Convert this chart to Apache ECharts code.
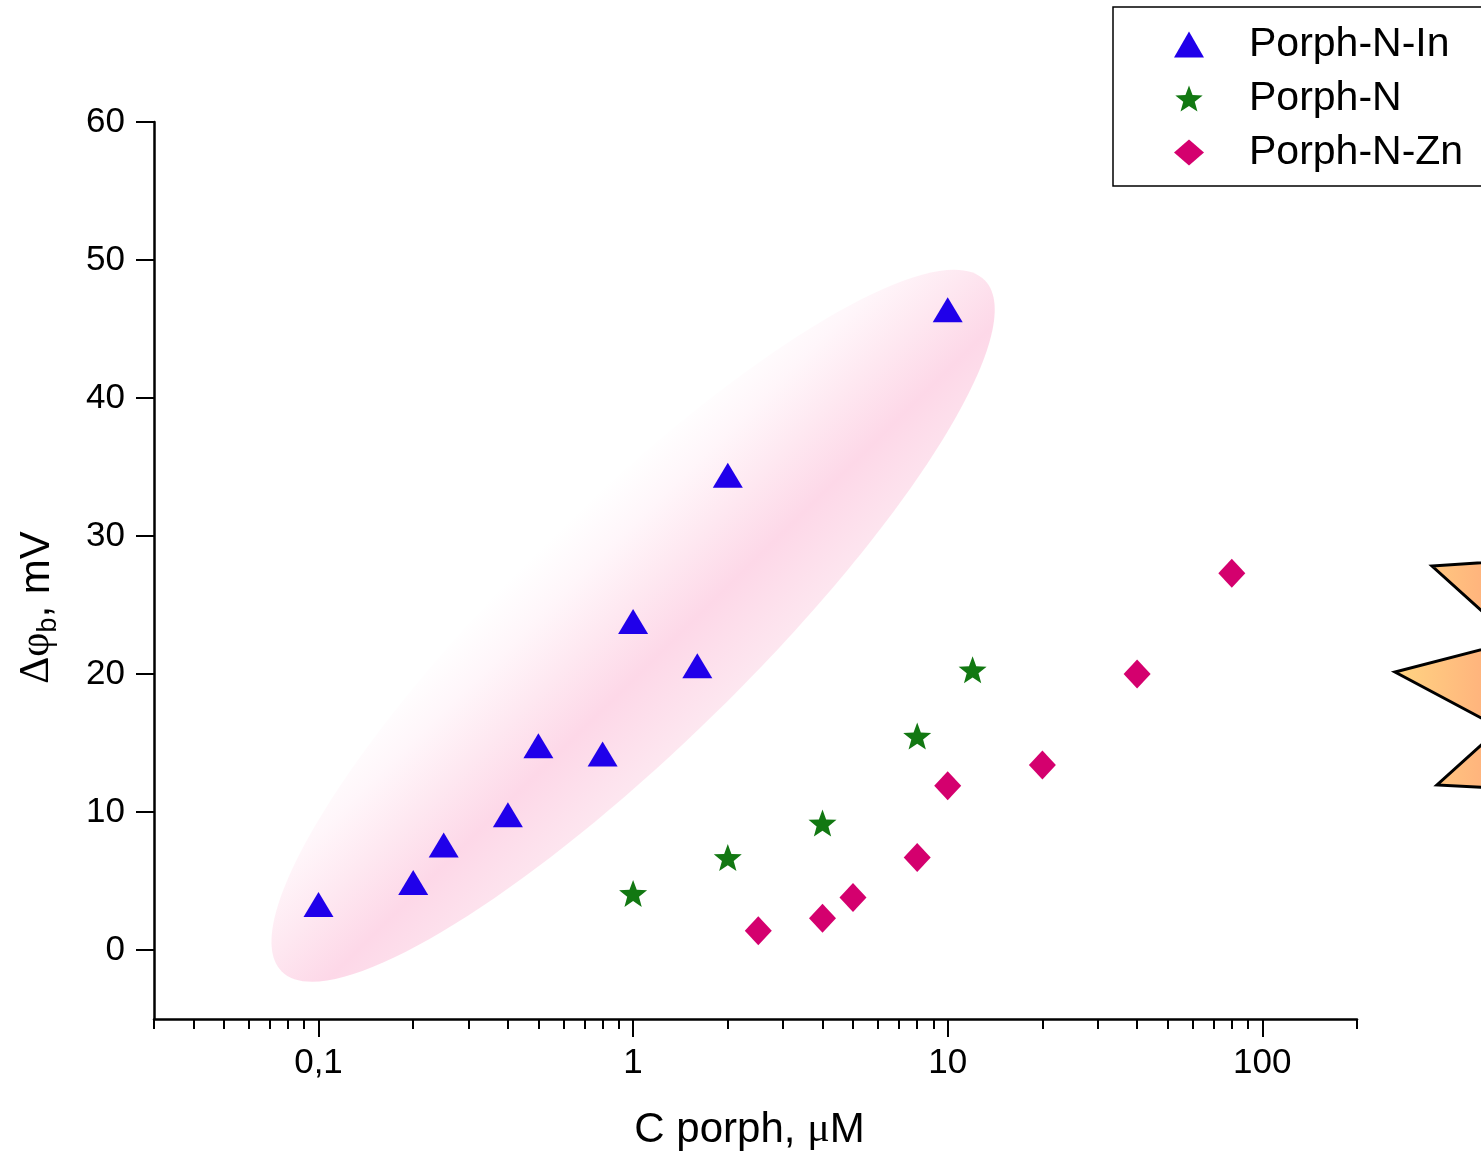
<!DOCTYPE html>
<html>
<head>
<meta charset="utf-8">
<script src="https://cdn.jsdelivr.net/npm/echarts@6/dist/echarts.min.js"></script>
<style>html,body{margin:0;padding:0;background:#fff}#c{width:1481px;height:1153px}</style>
</head>
<body>
<div id="c"></div>
<script>
// ---- data ----
const inX = [0.1, 0.2, 0.25, 0.4, 0.5, 0.8, 1, 1.6, 2, 10];
const inY = [3.3, 4.9, 7.6, 9.8, 14.8, 14.2, 23.8, 20.6, 34.4, 46.4];
const nX = [1, 2, 4, 8, 12];
const nY = [4.1, 6.7, 9.2, 15.5, 20.3];
const znX = [2.5, 4, 5, 8, 10, 20, 40, 80];
const znY = [1.4, 2.3, 3.8, 6.7, 11.9, 13.4, 20.0, 27.3];
const yTicks = [0, 10, 20, 30, 40, 50, 60];
const xMajor = [0.1, 1, 10, 100];
const xMinor = [0.03,0.04,0.05,0.06,0.07,0.08,0.09,0.2,0.3,0.4,0.5,0.6,0.7,0.8,0.9,2,3,4,5,6,7,8,9,20,30,40,50,60,70,80,90,200];
const seriesNames = ['Porph-N-In', 'Porph-N', 'Porph-N-Zn'];

function zip(a, b) { return a.map((v, i) => [v, b[i]]); }
function starPath() {
  const p = [];
  for (let i = 0; i < 10; i++) {
    const r = i % 2 ? 0.42 : 1;
    const a = -Math.PI / 2 + i * Math.PI / 5;
    p.push((50 + 50 * r * Math.cos(a)).toFixed(2) + ' ' + (50 + 50 * r * Math.sin(a)).toFixed(2));
  }
  return 'path://M' + p.join(' L') + ' Z';
}
const STAR = starPath();
const FONT = 'Liberation Sans, Arial, sans-serif';

const chart = echarts.init(document.getElementById('c'));
const option = {
  animation: false,
  backgroundColor: '#fff',
  grid: { left: 154, right: 124, top: 122, bottom: 134, containLabel: false, outerBoundsMode: 'none' },
  legend: {
    orient: 'vertical', left: 1113, top: 7,
    padding: [17, 40, 13, 61],
    itemWidth: 30, itemHeight: 26, itemGap: 13,
    borderColor: '#000', borderWidth: 1.5, backgroundColor: '#fff',
    textStyle: { fontSize: 41, fontFamily: FONT, color: '#000', padding: [0, 0, 0, 40] },
    data: seriesNames
  },
  xAxis: [{
    type: 'log', min: 0.03, max: 200, position: 'bottom',
    axisLine: { onZero: false, lineStyle: { color: '#000', width: 2.5 } },
    axisTick: { customValues: xMajor, length: 18, lineStyle: { color: '#000', width: 2 } },
    axisLabel: {
      customValues: xMajor, margin: 27, fontSize: 35, fontFamily: FONT, color: '#000',
      formatter: v => String(Math.round(v * 1000) / 1000).replace('.', ',')
    },
    splitLine: { show: false }, minorTick: { show: false },
    name: '{n|C porph, }{m|μ}{n|M}', nameLocation: 'middle', nameGap: 88,
    nameTextStyle: { padding: [0, 12, 0, 0], rich: {
      n: { fontSize: 42, fontFamily: FONT, color: '#000', lineHeight: 46 },
      m: { fontSize: 42, fontFamily: 'Liberation Serif, serif', color: '#000', lineHeight: 46 }
    } }
  }, {
    type: 'log', min: 0.03, max: 200, position: 'bottom', gridIndex: 0,
    axisLine: { show: false, onZero: false },
    axisTick: { customValues: xMinor, length: 10, lineStyle: { color: '#000', width: 2 } },
    axisLabel: { show: false },
    splitLine: { show: false }
  }],
  yAxis: {
    type: 'value', min: -5, max: 60,
    axisLine: { show: true, onZero: false, lineStyle: { color: '#000', width: 2.5 } },
    axisTick: { show: true, customValues: yTicks, length: 18, lineStyle: { color: '#000', width: 2 } },
    axisLabel: { customValues: yTicks, margin: 29, fontSize: 35, fontFamily: FONT, color: '#000' },
    splitLine: { show: false },
    name: '{d|Δφ}{s|b}{t|, mV}', nameLocation: 'middle', nameGap: 92,
    nameTextStyle: {
      padding: [0, 74, 0, 0],
      rich: {
        d: { fontSize: 42, fontFamily: 'Liberation Serif, serif', color: '#000', lineHeight: 50 },
        s: { fontSize: 27, fontFamily: FONT, color: '#000', lineHeight: 27, verticalAlign: 'bottom' },
        t: { fontSize: 42, fontFamily: FONT, color: '#000', lineHeight: 50 }
      }
    }
  },
  series: [{
    name: seriesNames[0], type: 'scatter', z: 3, symbol: 'triangle', symbolSize: [30, 25],
    itemStyle: { color: '#2000ea', opacity: 1 }, data: zip(inX, inY)
  }, {
    name: seriesNames[1], type: 'scatter', z: 3, symbol: STAR, symbolSize: [28, 27],
    itemStyle: { color: '#127812', opacity: 1 }, data: zip(nX, nY)
  }, {
    name: seriesNames[2], type: 'scatter', z: 3, symbol: 'diamond', symbolSize: [27, 29],
    itemStyle: { color: '#d4006e', opacity: 1 }, data: zip(znX, znY)
  }]
};
chart.setOption(option);

// decorations: highlight ellipse around the Porph-N-In group, and the orange burst at the right edge
const c = chart.convertToPixel({ xAxisIndex: 0, yAxisIndex: 0 }, [1.0, 23.5]);
chart.setOption({
  graphic: [{
    type: 'ellipse', z: 0, silent: true,
    x: c[0], y: c[1], rotation: 44.5 * Math.PI / 180,
    shape: { cx: 0, cy: 0, rx: 493, ry: 120 },
    style: {
      fill: new echarts.graphic.LinearGradient(0, 0, 0, 1, [
        { offset: 0, color: '#ffffff' },
        { offset: 0.2, color: '#fff6fa' },
        { offset: 0.42, color: '#fee8f1' },
        { offset: 0.66, color: '#fdd8e8' },
        { offset: 1, color: '#fde7f0' }
      ])
    }
  }, {
    type: 'polygon', z: 1, silent: true,
    shape: { points: [[1640, 552], [1432, 566], [1515, 641], [1395, 672], [1500, 728], [1437, 785], [1640, 795]] },
    style: {
      fill: new echarts.graphic.LinearGradient(0, 0, 1, 0, [
        { offset: 0, color: '#ffd582' },
        { offset: 0.4, color: '#ffb07c' },
        { offset: 1, color: '#ff9a70' }
      ], false),
      stroke: '#000', lineWidth: 3, lineJoin: 'miter'
    }
  }]
});
</script>
</body>
</html>
